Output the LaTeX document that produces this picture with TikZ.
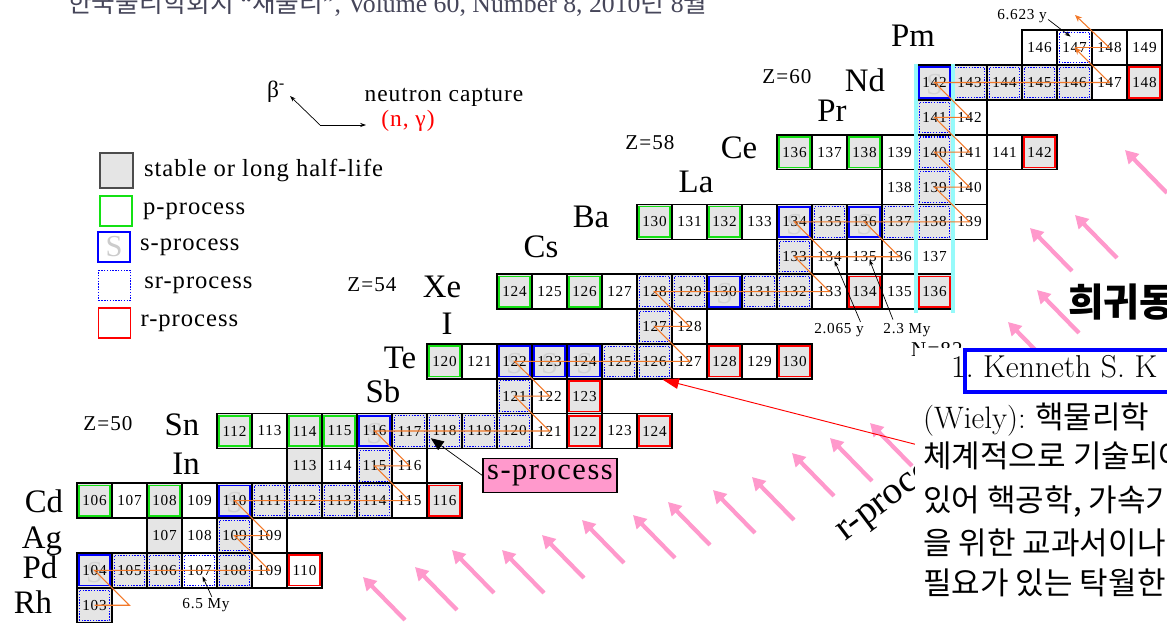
\documentclass[tikz,border=0pt]{standalone}
\usepackage{fontspec}
\setmainfont{Liberation Serif}
\newfontfamily\spfont[LetterSpace=5]{Liberation Serif}
\newfontfamily\legfont[LetterSpace=4]{Liberation Serif}
\newfontfamily\kofont{Noto Sans CJK KR}
\newfontfamily\lmfont{Latin Modern Roman}
\usetikzlibrary{positioning,calc,arrows.meta}

\definecolor{pgreen}{RGB}{20,225,20}
\definecolor{sorange}{RGB}{242,120,40}
\definecolor{rpink}{RGB}{255,153,204}
\definecolor{magic}{RGB}{150,250,250}
\definecolor{headgray}{RGB}{70,70,90}

\tikzset{
  cell/.style={draw=black, line width=1.4pt, minimum width=1.05cm, minimum height=1.0455cm,
    inner sep=0pt, font=\spfont\fontsize{13}{13}\selectfont},
  inframe/.style={path picture={\draw[#1] ([shift={(1.9pt,1.9pt)}]path picture bounding box.south west)
    rectangle ([shift={(-1.9pt,-1.9pt)}]path picture bounding box.north east);}},
  plain/.style={cell, fill=white},
  stable/.style={cell, fill=gray!20},
  pcell/.style={stable, inframe={pgreen, line width=1.3pt}},
  srcell/.style={stable, inframe={blue, line width=0.9pt, dash pattern=on 1.2pt off 1.2pt}},
  srwcell/.style={plain, inframe={blue, line width=0.9pt, dash pattern=on 1.2pt off 1.2pt}},
  rcell/.style={stable, inframe={red, line width=1.4pt}},
  rwcell/.style={plain, inframe={red, line width=1.4pt}},
  scell/.style={stable, path picture={
    \node[text=gray!35, font=\fontsize{26}{26}\selectfont] at ([yshift=-2pt]path picture bounding box.center) {S};
    \draw[blue, line width=1.5pt] ([shift={(1.9pt,1.9pt)}]path picture bounding box.south west)
      rectangle ([shift={(-1.9pt,-1.9pt)}]path picture bounding box.north east);}},
  spath/.style={draw=sorange, line width=0.9pt},
  note/.style={-{Stealth[length=5pt,width=3.5pt]}, line width=0.6pt},
  rarrow/.style={rpink, line width=3.6pt, -{Triangle[length=11pt,width=12pt]}},
  elabel/.style={anchor=base, inner sep=0pt, font=\fontsize{28}{28}\selectfont},
  zlabel/.style={inner sep=0pt, font=\spfont\fontsize{18}{18}\selectfont},
  tlabel/.style={inner sep=1pt, font=\spfont\fontsize{13}{13}\selectfont},
  lgbox/.style={minimum width=0.96cm, minimum height=0.9cm, line width=1.5pt, inner sep=0pt},
  legtext/.style={inner sep=0pt, font=\legfont\fontsize{21}{21}\selectfont},
  kotext/.style={anchor=base west, inner sep=0pt, font=\kofont\fontsize{26.5}{26.5}\selectfont}
}

% one nuclide box: style, element, Z, A, printed text
\newcommand{\nuc}[5]{\node[#1] (#2#4) at ({94.5+(#4-#3-58)*35},{500.7-(#3-48)*34.85}) {#5};}
% a row of boxes: element, Z, first A, styles
\newcommand{\isorow}[4]{\foreach \s [count=\a from #3] in {#4} {\expandafter\nuc\expandafter{\s}{#1}{#2}{\a}{\a}}}

\begin{document}
\begin{tikzpicture}[x=0.03cm, y=-0.03cm]
\useasboundingbox (0,0) rectangle (1167,623);
\clip (0,0) rectangle (1167,623);

% journal line, cut at the top
\node[anchor=base west, inner sep=0pt, text=headgray, font=\fontsize{22}{22}\selectfont] (header) at (68,13)
  {{\kofont 한국물리학회지} “{\kofont 새물리}”, Volume 60, Number 8, 2010{\kofont 년} 8{\kofont 월}};

% legend
\coordinate (nc) at (320,125);
\coordinate (betatip) at (290,96);
\coordinate (ngtip) at (366,125);
\node[inner sep=0pt, font=\fontsize{20}{20}\selectfont] (beta) at (276,92) {β\textsuperscript{-}};
\node[inner sep=0pt, font=\legfont\fontsize{20}{20}\selectfont] (ncap) at (444,97) {neutron capture};
\node[inner sep=0pt, text=red, font=\legfont\fontsize{20}{20}\selectfont] (ngam) at (408,121) {(n, γ)};
\draw[note] (nc) -- (betatip);
\draw[note] (nc) -- (ngtip);

\node[lgbox, fill=gray!20, draw=gray!60!black, minimum width=0.99cm, minimum height=1.05cm] (lgStable) at (116.5,170.5) {};
\node[lgbox, draw=pgreen] (lgP) at (116,211) {};
\node[lgbox, draw=blue, text=gray!40, font=\fontsize{26}{26}\selectfont] (lgS) at (114,247) {S};
\node[lgbox, draw=blue, line width=1pt, dash pattern=on 1.2pt off 1.2pt] (lgSR) at (114.5,285.5) {};
\node[lgbox, draw=red] (lgR) at (114.5,323) {};
\node[legtext, right=0.3cm of lgStable] (txStable) {stable or long half-life};
\node[legtext, right=0.3cm of lgP] (txP) {p-process};
\node[legtext, right=0.27cm of lgS] (txS) {s-process};
\node[legtext, right=0.39cm of lgSR] (txSR) {sr-process};
\node[legtext, right=0.27cm of lgR] (txR) {r-process};

% chart of nuclides
\isorow{Rh}{45}{103}{srcell}
\isorow{Pd}{46}{104}{scell,srcell,srcell,srwcell,srcell,plain,rwcell}
\isorow{Ag}{47}{107}{stable,plain,srcell}
\nuc{plain}{Ag}{47}{110}{109}
\isorow{Cd}{48}{106}{pcell,plain,pcell,plain,scell,srcell,srcell,srcell,srcell,plain,rcell}
\isorow{In}{49}{113}{stable,plain,srcell,plain}
\isorow{Sn}{50}{112}{pcell,plain,pcell,pcell,scell,srcell,srcell,srcell,srcell,plain,rcell,plain,rcell}
\isorow{Sb}{51}{121}{srcell,plain,rcell}
\isorow{Te}{52}{120}{pcell,plain,scell,scell,scell,srcell,srcell,plain,rcell,plain,rcell}
\isorow{I}{53}{127}{srcell,plain}
\isorow{Xe}{54}{124}{pcell,plain,pcell,plain,srcell,srcell,scell,srcell,srcell,plain,rcell,plain,rcell}
\isorow{Cs}{55}{133}{srcell,plain,plain,plain,plain}
\isorow{Ba}{56}{130}{pcell,plain,pcell,plain,scell,srcell,scell,srcell,srcell,plain}
\isorow{La}{57}{138}{plain,srcell,plain}
\isorow{Ce}{58}{136}{pcell,plain,pcell,plain,srcell,plain}
\nuc{plain}{Ce}{58}{142}{141}
\nuc{rcell}{Ce}{58}{143}{142}
\isorow{Pr}{59}{141}{srcell,plain}
\isorow{Nd}{60}{142}{scell,srcell,srcell,srcell,srcell,plain,rcell}
\isorow{Pm}{61}{146}{plain,srwcell,plain,plain}

% N=82 band
\draw[magic, line width=3.4pt] (Nd142.north west) -- ([yshift=-3pt]Xe136.south west);
\draw[magic, line width=3.4pt] (Nd142.north east) -- ([yshift=-3pt]Xe136.south east);
\node[zlabel, anchor=north west] (n82) at (911,342) {N=82};

% s-process path
\coordinate (Rh104) at (129.5,605.25);
\coordinate (Sm148) at (1075,15);
\draw[spath] (Rh103.center) -- (Rh104) -- (Pd104.center) -- (Pd109.center) -- (Ag109.center)
  -- (Ag110.center) -- (Cd110.center) -- (Cd115.center) -- (In115.center) -- (In116.center)
  -- (Sn116.center) -- (Sn121.center) -- (Sb121.center) -- (Sb122.center) -- (Te122.center)
  -- (Te127.center) -- (I127.center) -- (I128.center) -- (Xe128.center) -- (Xe133.center)
  -- (Cs133.center) -- (Cs136.center) -- (Ba136.center);
\draw[spath] (Cs134.center) -- (Ba134.center) -- (Ba139.center) -- (La139.center) -- (La140.center)
  -- (Ce140.center) -- (Ce141.center) -- (Pr141.center) -- (Pr142.center) -- (Nd142.center) -- (Nd147.center);
\draw[spath, -{Stealth[length=6pt,width=5pt]}] (Nd147.center) -- (Pm147.center);
\draw[spath] (Pm147.center) -- (Pm148.center);
\draw[spath, -{Stealth[length=6pt,width=5pt]}] (Pm148.center) -- (Sm148);

% element names
\node[elabel] (lPm) at (913,47) {Pm};
\node[elabel] (lNd) at (865,92) {Nd};
\node[elabel] (lPr) at (832,122) {Pr};
\node[elabel] (lCe) at (739,159) {Ce};
\node[elabel] (lLa) at (696,193) {La};
\node[elabel] (lBa) at (591,228) {Ba};
\node[elabel] (lCs) at (541,258) {Cs};
\node[elabel] (lXe) at (442,298) {Xe};
\node[elabel] (lI) at (447,335) {I};
\node[elabel] (lTe) at (400,368) {Te};
\node[elabel] (lSb) at (383,403) {Sb};
\node[elabel] (lSn) at (182,435) {Sn};
\node[elabel] (lIn) at (186,474) {In};
\node[elabel] (lCd) at (44,512) {Cd};
\node[elabel] (lAg) at (42,548) {Ag};
\node[elabel] (lPd) at (40,578) {Pd};
\node[elabel] (lRh) at (33,613) {Rh};
\node[zlabel] (z60) at (787,77) {Z=60};
\node[zlabel] (z58) at (650,143) {Z=58};
\node[zlabel] (z54) at (372,285) {Z=54};
\node[zlabel] (z50) at (108,424) {Z=50};

% half-lives
\node[tlabel] (t107) at (206,605) {6.5 My};
\node[tlabel] (t134) at (839,330) {2.065 y};
\node[tlabel] (t135) at (907,330) {2.3 My};
\node[tlabel] (t147) at (1022,16) {6.623 y};
\draw[note] ([xshift=5pt]t107.north) -- ($(Pd107.center)+(3,6)$);
\draw[note] ([xshift=-4pt]t134.north east) -- ($(Cs134.center)+(5,4)$);
\draw[note] ([xshift=-12pt,yshift=2pt]t135.north) -- ($(Cs135.center)+(5,3)$);
\draw[note] ([yshift=-3pt]t147.east) -- ($(Pm147.center)+(-4,-11)$);

% s-process call-out
\node[draw, line width=1pt, fill=rpink, minimum width=4.02cm, minimum height=1.02cm, inner sep=0pt,
  font=\spfont\fontsize{26}{26}\selectfont] (sproc) at (550,475.5) {s-process};
\draw[-{Triangle[length=11pt,width=9pt]}, line width=0.6pt] (sproc.west) -- ($(Sn117.south east)+(3,-11)$);

% r-process flow
\foreach \hx/\hy in {363/577, 415/567, 452/550, 502/550, 542/535, 582/520, 633/515, 668/502,
    713/490, 752/477, 792/453, 830/438, 870/423, 1008/322, 1037/290, 1030/228, 1075/215, 1125/150}
  \draw[rarrow] (\hx+42,\hy+43) -- (\hx,\hy);
\node[anchor=base west, rotate=37, inner sep=0pt, font=\fontsize{33}{33}\selectfont] (rproc) at (845,542) {r-process};

\coordinate (edge) at (918,445);
\draw[red, line width=0.8pt, -{Triangle[length=14pt,width=9pt]}] (edge) -- ($(Te126.south)+(8,0)$);

% overlapping page
\fill[white] (915,348) rectangle (1167,623);
\node[anchor=base west, inner sep=0pt, font=\kofont\bfseries\fontsize{33}{33}\selectfont] (title) at (1068,317) {희귀동};
\draw[blue, line width=3pt] (965,350) rectangle (1185,392);
\node[anchor=base west, inner sep=0pt, font=\lmfont\fontsize{27}{27}\selectfont] (ref1) at (951,378) {1.\ Kenneth S. K};
\node[kotext] (kline1) at (923,428) {{\lmfont (Wiely):} 핵물리학};
\node[kotext] (kline2) at (923,467) {체계적으로 기술되어};
\node[kotext] (kline3) at (923,511) {있어 핵공학, 가속기};
\node[kotext] (kline4) at (923,554) {을 위한 교과서이나};
\node[kotext] (kline5) at (923,594) {필요가 있는 탁월한};
\end{tikzpicture}
\end{document}
